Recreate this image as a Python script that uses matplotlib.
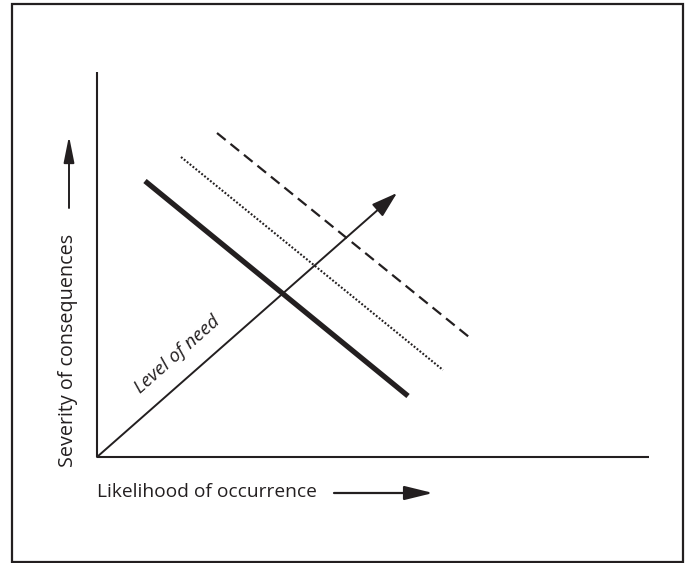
import matplotlib
import matplotlib.pyplot as plt
from matplotlib.patches import Rectangle

matplotlib.use("Agg")

# diagram units: origin at the corner of the two axes, y up
ink = "#231f20"

axis_x = [0, 552]
axis_y = [0, 385]

need_start = (0, 0)
need_end = (300, 264)

solid_x = [48, 311]
solid_y = [276, 61]
dotted_x = [84, 346]
dotted_y = [300, 87]
dashed_x = [120, 372]
dashed_y = [324, 120]

ylabel_text = "Severity of consequences"
xlabel_text = "Likelihood of occurrence"
need_text = "Level of need"


def arrowStyle(length, width, lw):
    return dict(arrowstyle="-|>,head_length=%s,head_width=%s" % (length, width),
                color=ink, lw=lw, shrinkA=0, shrinkB=0)


def draw(filepath):
    fig = plt.figure(figsize=(6.89, 5.63), dpi=100)
    ax = fig.add_axes([0, 0, 1, 1])
    ax.set_xlim(-97, 592)
    ax.set_ylim(-106, 457)
    ax.axis("off")

    # outer frame
    ax.add_patch(Rectangle((-85, -105), 671, 558, fill=False, ec=ink, lw=1.6))

    # axes
    ax.plot(axis_x, [0, 0], color=ink, lw=1.5, solid_capstyle="butt")
    ax.plot([0, 0], axis_y, color=ink, lw=1.5, solid_capstyle="butt")

    # need lines
    ax.plot(solid_x, solid_y, color=ink, lw=3.8, solid_capstyle="butt")
    ax.plot(dotted_x, dotted_y, color=ink, lw=1.5, linestyle=(0, (0.9, 0.9)))
    ax.plot(dashed_x, dashed_y, color=ink, lw=1.6, linestyle=(0, (5.0, 2.8)))

    ax.annotate("", xy=need_end, xytext=need_start,
                arrowprops=arrowStyle(1.6, 0.5, 1.4))
    ax.text(80, 102, need_text, rotation=41.5, rotation_mode="anchor",
            ha="center", va="center", fontsize=13.5, fontstyle="italic",
            family="Open Sans", color=ink)

    # axis labels with arrows
    ax.text(-29, 107, ylabel_text, rotation=90, ha="center", va="center",
            fontsize=14.2, family="Open Sans", color=ink)
    ax.annotate("", xy=(-28, 321), xytext=(-28, 249),
                arrowprops=arrowStyle(1.6, 0.32, 1.4))

    ax.text(0, -35, xlabel_text, ha="left", va="center",
            fontsize=13.8, family="Open Sans", color=ink)
    ax.annotate("", xy=(336, -36), xytext=(237, -36),
                arrowprops=arrowStyle(1.75, 0.43, 1.6))

    fig.savefig(filepath, dpi=100)


draw("out.png")
